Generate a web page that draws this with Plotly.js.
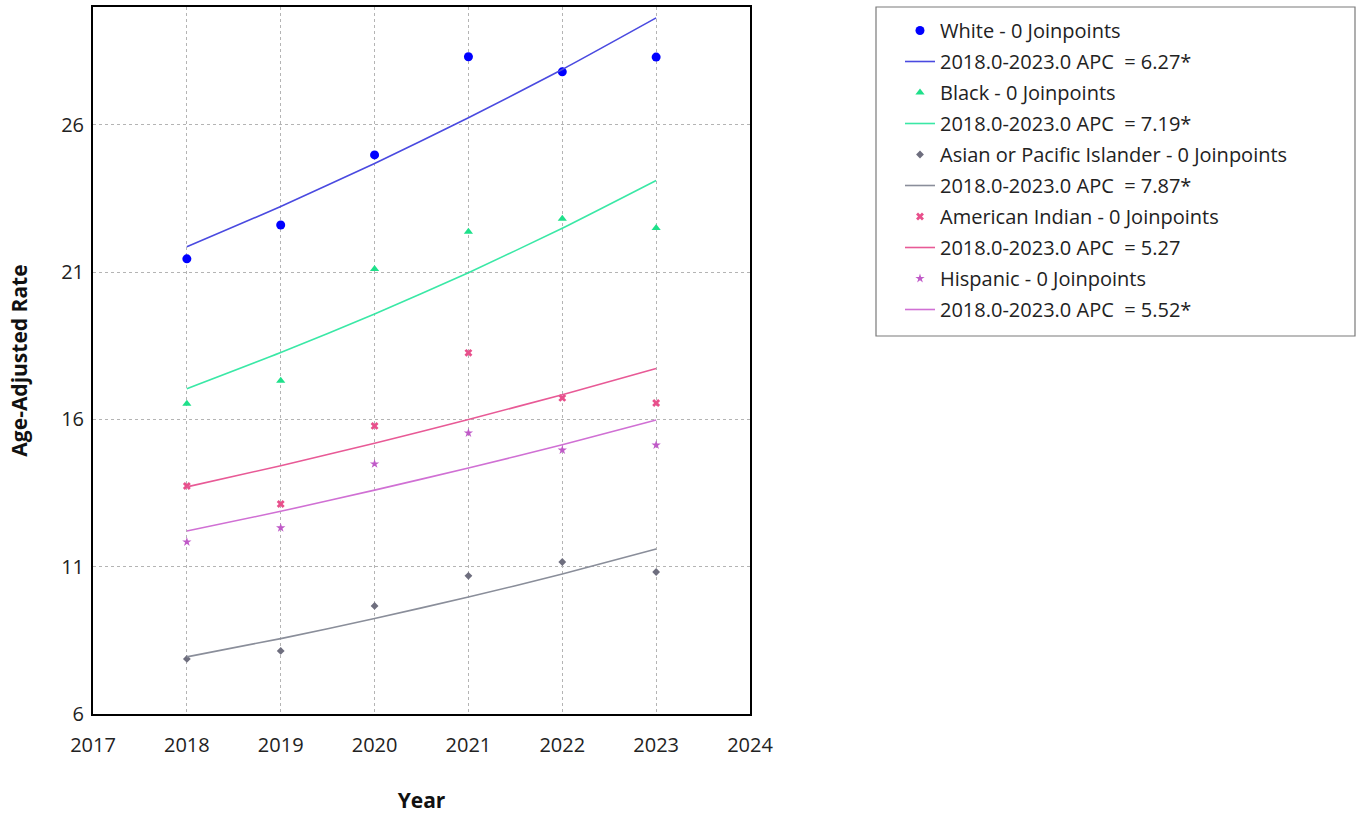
<!DOCTYPE html>
<html>
<head>
<meta charset="utf-8">
<script src="https://cdn.plot.ly/plotly-3.0.1.min.js"></script>
<style>
  html, body { margin: 0; padding: 0; background: #ffffff; }
  #chart { width: 1363px; height: 817px; }
</style>
</head>
<body>
<div id="chart"></div>
<script>
// Observation years
const years = [2018, 2019, 2020, 2021, 2022, 2023];

// Observed age-adjusted rates by group
const whiteObs    = [21.45, 22.60, 24.98, 28.31, 27.80, 28.30];
const blackObs    = [16.53, 17.31, 21.11, 22.37, 22.81, 22.50];
const asianObs    = [7.87, 8.14, 9.67, 10.69, 11.16, 10.82];
const amIndianObs = [13.74, 13.13, 15.78, 18.26, 16.73, 16.56];
const hispanicObs = [11.84, 12.32, 14.49, 15.54, 14.96, 15.13];

// Modelled (joinpoint) rates by group
const whiteFit    = [21.86, 23.23, 24.69, 26.24, 27.88, 29.63];
const blackFit    = [17.04, 18.27, 19.58, 20.98, 22.49, 24.11];
const asianFit    = [7.94, 8.56, 9.24, 9.97, 10.75, 11.60];
const amIndianFit = [13.71, 14.43, 15.19, 16.00, 16.84, 17.73];
const hispanicFit = [12.21, 12.88, 13.60, 14.35, 15.14, 15.98];

// Legend labels
const obsNames = [
  "White - 0 Joinpoints",
  "Black - 0 Joinpoints",
  "Asian or Pacific Islander - 0 Joinpoints",
  "American Indian - 0 Joinpoints",
  "Hispanic - 0 Joinpoints"
];
const fitNames = [
  "2018.0-2023.0 APC&nbsp;&nbsp;= 6.27*",
  "2018.0-2023.0 APC&nbsp;&nbsp;= 7.19*",
  "2018.0-2023.0 APC&nbsp;&nbsp;= 7.87*",
  "2018.0-2023.0 APC&nbsp;&nbsp;= 5.27",
  "2018.0-2023.0 APC&nbsp;&nbsp;= 5.52*"
];

const obsSeries = [whiteObs, blackObs, asianObs, amIndianObs, hispanicObs];
const fitSeries = [whiteFit, blackFit, asianFit, amIndianFit, hispanicFit];

const styles = [
  { mColor: "#0000ff", lColor: "#4a4ae0", symbol: "circle",      size: 9 },
  { mColor: "#1ee08a", lColor: "#3ae8a6", symbol: "triangle-up", size: 8 },
  { mColor: "#6e6e7e", lColor: "#8a8e9a", symbol: "diamond",     size: 6 },
  { mColor: "#e8508c", lColor: "#e85a96", symbol: "x",           size: 7 },
  { mColor: "#c05ac8", lColor: "#d070d4", symbol: "star",        size: 7 }
];

const traces = [];
obsSeries.forEach((vals, i) => {
  const s = styles[i];
  traces.push({
    x: years, y: vals, type: "scatter", mode: "markers",
    name: obsNames[i], legendgroup: "g" + (2 * i),
    marker: { color: s.mColor, symbol: s.symbol, size: s.size, line: { width: 0 } }
  });
  traces.push({
    x: years, y: fitSeries[i], type: "scatter", mode: "lines",
    name: fitNames[i], legendgroup: "g" + (2 * i + 1),
    line: { color: s.lColor, width: 1.6, shape: "spline", smoothing: 0.6 }
  });
});

const plotLeft = 93, plotRight = 750, plotTop = 7, plotBottom = 714;
const W = 1363, H = 817;
const pw = plotRight - plotLeft, ph = plotBottom - plotTop;
const px = v => (v - plotLeft) / pw;
const py = v => (plotBottom - v) / ph;

const layout = {
  width: W, height: H,
  paper_bgcolor: "#ffffff",
  plot_bgcolor: "#ffffff",
  margin: { l: plotLeft, r: W - plotRight, t: plotTop, b: H - plotBottom },
  font: { family: "Open Sans, Noto Sans, sans-serif", color: "#222222" },
  showlegend: true,
  xaxis: {
    range: [2017, 2024], tick0: 2017, dtick: 1,
    showgrid: true, gridcolor: "#b4b4b4", griddash: "dot", gridwidth: 1,
    zeroline: false, showline: true, mirror: true, linecolor: "#000000", linewidth: 2,
    ticks: "", ticklabelstandoff: 12,
    tickfont: { size: 20, color: "#222222" },
    title: { text: "<b>Year</b>", font: { size: 21, color: "#111111" }, standoff: 36 },
    automargin: false
  },
  yaxis: {
    range: [6, 30], tick0: 6, dtick: 5,
    showgrid: true, gridcolor: "#b4b4b4", griddash: "dot", gridwidth: 1,
    zeroline: false, showline: true, mirror: true, linecolor: "#000000", linewidth: 2,
    ticks: "", ticklabelstandoff: 3,
    tickfont: { size: 20, color: "#222222" },
    title: { text: "<b>Age-Adjusted Rate</b>", font: { size: 21, color: "#111111" }, standoff: 28 },
    automargin: false
  },
  legend: {
    x: px(900), xanchor: "left",
    y: py(11), yanchor: "top",
    bgcolor: "rgba(0,0,0,0)", borderwidth: 0,
    font: { size: 20, color: "#222222" },
    tracegroupgap: 2,
    traceorder: "grouped"
  },
  shapes: [{
    type: "rect", xref: "paper", yref: "paper",
    x0: px(876), x1: px(1355), y0: py(336), y1: py(7),
    line: { color: "#7a7a7a", width: 1.2 }, fillcolor: "rgba(0,0,0,0)"
  }]
};

Plotly.newPlot("chart", traces, layout, { displayModeBar: false, staticPlot: true });
</script>
</body>
</html>
